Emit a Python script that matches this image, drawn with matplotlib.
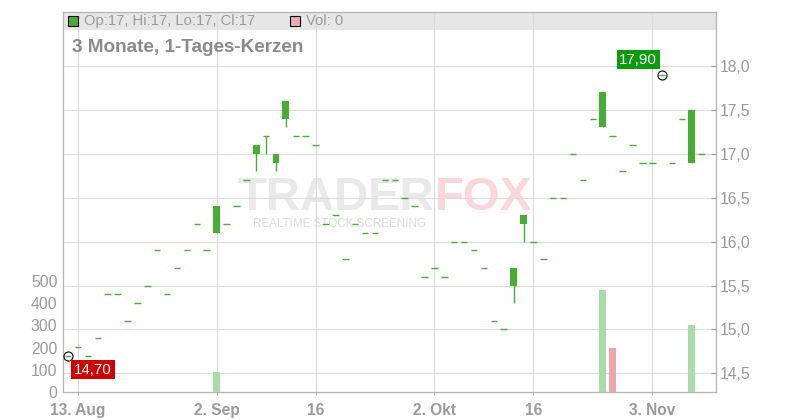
import numpy as np
import pandas as pd
import matplotlib
matplotlib.use('Agg')
import matplotlib.pyplot as plt
from matplotlib.patches import Rectangle

plt.rcParams['font.family'] = ['Liberation Sans', 'DejaVu Sans']

# trading days shown on the chart (ordinal axis)
dates = pd.bdate_range('2025-08-12', '2025-11-10')

opens = [14.7, 14.8, 14.7, 14.9, 15.4, 15.4, 15.1, 15.3, 15.5, 15.9,
         15.4, 15.7, 15.9, 16.2, 15.9, 16.1, 16.2, 16.4, 16.7, 17.0,
         17.2, 16.9, 17.4, 17.2, 17.2, 17.1, 16.2, 16.3, 15.8, 16.2,
         16.1, 16.1, 16.7, 16.7, 16.5, 16.4, 15.6, 15.7, 15.6, 16.0,
         16.0, 15.9, 15.7, 15.1, 15.0, 15.5, 16.2, 16.0, 15.8, 16.5,
         16.5, 17.0, 16.7, 17.4, 17.3, 17.2, 16.8, 17.1, 16.9, 16.9,
         17.9, 16.9, 17.4, 16.9, 17.0]
highs = [14.7, 14.8, 14.7, 14.9, 15.4, 15.4, 15.1, 15.3, 15.5, 15.9,
         15.4, 15.7, 15.9, 16.2, 15.9, 16.4, 16.2, 16.4, 16.7, 17.1,
         17.2, 17.0, 17.6, 17.2, 17.2, 17.1, 16.2, 16.3, 15.8, 16.2,
         16.1, 16.1, 16.7, 16.7, 16.5, 16.4, 15.6, 15.7, 15.6, 16.0,
         16.0, 15.9, 15.7, 15.1, 15.0, 15.7, 16.3, 16.0, 15.8, 16.5,
         16.5, 17.0, 16.7, 17.4, 17.7, 17.2, 16.8, 17.1, 16.9, 16.9,
         17.9, 16.9, 17.4, 17.5, 17.0]
lows = [14.7, 14.8, 14.7, 14.9, 15.4, 15.4, 15.1, 15.3, 15.5, 15.9,
        15.4, 15.7, 15.9, 16.2, 15.9, 16.1, 16.2, 16.4, 16.7, 16.8,
        17.0, 16.8, 17.3, 17.2, 17.2, 17.1, 16.2, 16.3, 15.8, 16.2,
        16.1, 16.1, 16.7, 16.7, 16.5, 16.4, 15.6, 15.7, 15.6, 16.0,
        16.0, 15.9, 15.7, 15.1, 15.0, 15.3, 16.0, 16.0, 15.8, 16.5,
        16.5, 17.0, 16.7, 17.4, 17.3, 17.2, 16.8, 17.1, 16.9, 16.9,
        17.9, 16.9, 17.4, 16.9, 17.0]
closes = [14.7, 14.8, 14.7, 14.9, 15.4, 15.4, 15.1, 15.3, 15.5, 15.9,
          15.4, 15.7, 15.9, 16.2, 15.9, 16.4, 16.2, 16.4, 16.7, 17.1,
          17.2, 17.0, 17.6, 17.2, 17.2, 17.1, 16.2, 16.3, 15.8, 16.2,
          16.1, 16.1, 16.7, 16.7, 16.5, 16.4, 15.6, 15.7, 15.6, 16.0,
          16.0, 15.9, 15.7, 15.1, 15.0, 15.7, 16.3, 16.0, 15.8, 16.5,
          16.5, 17.0, 16.7, 17.4, 17.7, 17.2, 16.8, 17.1, 16.9, 16.9,
          17.9, 16.9, 17.4, 17.5, 17.0]
volumes = [0, 0, 0, 0, 0, 0, 0, 0, 0, 0,
           0, 0, 0, 0, 0, 90, 0, 0, 0, 0,
           0, 0, 0, 0, 0, 0, 0, 0, 0, 0,
           0, 0, 0, 0, 0, 0, 0, 0, 0, 0,
           0, 0, 0, 0, 0, 0, 0, 0, 0, 0,
           0, 0, 0, 0, 460, 200, 0, 0, 0, 0,
           0, 0, 0, 300, 0]

tick_dates = ['2025-08-13', '2025-09-02', '2025-09-16', '2025-10-02', '2025-10-16', '2025-11-03']
tick_labels = ['13. Aug', '2. Sep', '16', '2. Okt', '16', '3. Nov']
price_ticks = [14.5, 15.0, 15.5, 16.0, 16.5, 17.0, 17.5, 18.0]
vol_ticks = [0, 100, 200, 300, 400, 500]

GREEN = '#48ad35'
VOL_UP = '#a9dca6'
VOL_DOWN = '#eea4ad'
GRID = '#dcdcdc'
AXIS = '#b4b4b4'
TXT = '#9a9a9a'

o = np.array(opens); h = np.array(highs); l = np.array(lows); c = np.array(closes)
v = np.array(volumes)
idx = np.arange(len(dates))

fig = plt.figure(figsize=(8, 4.2), dpi=100)
ax = fig.add_axes([63 / 800, 27.7 / 420, 653 / 800, 380.6 / 420])
# volume gets its own scale (left), drawn over the price grid
vol = ax.twinx()

ax.set_xlim(-0.515, 65.44)
ax.set_ylim(14.284, 18.618)

# grid + frame
ax.set_axisbelow(True)
ax.grid(True, color=GRID, lw=0.8)
for s in ax.spines.values():
    s.set_color(AXIS)
    s.set_linewidth(0.9)
ax.yaxis.tick_right()
ax.set_yticks(price_ticks)
ax.set_yticklabels([f'{p:.1f}'.replace('.', ',') for p in price_ticks])
ax.tick_params(axis='y', direction='in', length=3.5, color='#999999', pad=3,
               labelsize=11.3, labelcolor=TXT)
tick_pos = [dates.get_loc(pd.Timestamp(d)) for d in tick_dates]
ax.set_xticks(tick_pos)
ax.set_xticklabels(tick_labels, fontweight='bold')
ax.tick_params(axis='x', direction='out', length=2.5, color=AXIS, pad=5,
               labelsize=11.2, labelcolor=TXT)

# legend bar at the top of the plot
ax.add_patch(Rectangle((0, 0.952), 1, 0.048, transform=ax.transAxes,
                       facecolor='#e6e6e6', edgecolor='none', zorder=0.2))

# watermark
ax.text(0.569, 0.479, 'TRADER', transform=ax.transAxes, ha='right', va='baseline',
        fontsize=34, fontweight='bold', color='#e9e9e9', zorder=0.3)
ax.text(0.569, 0.479, 'FOX', transform=ax.transAxes, ha='left', va='baseline',
        fontsize=34, fontweight='bold', color='#fcd6da', zorder=0.3)
ax.text(0.423, 0.458, 'REALTIME STOCK SCREENING', transform=ax.transAxes,
        ha='center', va='top', fontsize=8.4, color='#dcdcdc', zorder=0.3)

# candles
wick = h > l
ax.vlines(idx[wick], l[wick], h[wick], color=GREEN, lw=1.0, zorder=3)
body = c != o
ax.bar(idx[body], np.abs(c - o)[body], bottom=np.minimum(o, c)[body], width=0.7,
       color=GREEN, zorder=4)
flat = ~body
ax.hlines(c[flat], idx[flat] - 0.33, idx[flat] + 0.33, color=GREEN, lw=1.0, zorder=4)

# min / max markers
i_min = int(np.argmin(l))
i_max = int(np.argmax(h))
ax.plot([i_min, i_max], [l[i_min], h[i_max]], 'o', mfc='none', mec='black',
        ms=6.5, mew=0.8, zorder=5)
ax.annotate(f'{l[i_min]:.2f}'.replace('.', ','), (i_min, l[i_min]), xytext=(6, -7),
            textcoords='offset pixels', ha='left', va='top', color='white',
            fontsize=10.8, bbox=dict(boxstyle='square,pad=0.18', fc='#cc0000', ec='none'),
            zorder=6)
ax.annotate(f'{h[i_max]:.2f}'.replace('.', ','), (i_max, h[i_max]), xytext=(-5, 8),
            textcoords='offset pixels', ha='right', va='bottom', color='white',
            fontsize=10.8, bbox=dict(boxstyle='square,pad=0.18', fc='#0e9a0e', ec='none'),
            zorder=6)

vol.patch.set_visible(False)
vol.set_ylim(0, 1705)
up = np.r_[True, c[1:] >= c[:-1]]
vol.bar(idx, v, width=0.7, color=np.where(up, VOL_UP, VOL_DOWN))
vol.yaxis.tick_left()
vol.set_yticks(vol_ticks)
vol.tick_params(axis='y', length=0, pad=4, labelsize=11.3, labelcolor=TXT)
for s in vol.spines.values():
    s.set_visible(False)

# title and legend text
fig.text(72 / 800, 1 - 47 / 420, '3 Monate, 1-Tages-Kerzen', ha='left', va='center',
         fontsize=13.6, fontweight='bold', color='#8a8a8a')
fig.patches.append(Rectangle((68 / 800, 1 - 26 / 420), 10 / 800, 10 / 420,
                             transform=fig.transFigure, facecolor=GREEN,
                             edgecolor='black', lw=0.8))
fig.text(84 / 800, 1 - 21 / 420,
         f'Op:{o[-1]:g}, Hi:{h[-1]:g}, Lo:{l[-1]:g}, Cl:{c[-1]:g}',
         ha='left', va='center', fontsize=10.6, color=TXT)
fig.patches.append(Rectangle((290 / 800, 1 - 26 / 420), 10 / 800, 10 / 420,
                             transform=fig.transFigure, facecolor='#f0a9b1',
                             edgecolor='black', lw=0.8))
fig.text(306 / 800, 1 - 21 / 420, f'Vol: {v[-1]}', ha='left', va='center',
         fontsize=10.6, color=TXT)

fig.savefig('out.png', dpi=100)
